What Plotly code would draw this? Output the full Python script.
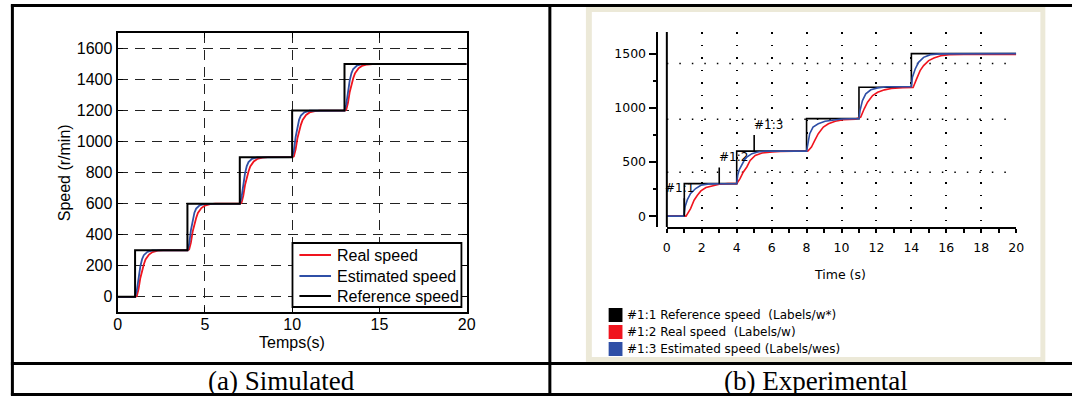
import plotly.graph_objects as go

W, H = 1081, 396

# ---------------- data: (a) Simulated ----------------
sim_ref_t = [0, 1, 4, 7, 10, 13, 20]
sim_ref_v = [0, 300, 600, 900, 1200, 1500, 1500]

sim_est_t = [0, 1.0, 1.1, 1.2, 1.3, 1.4, 1.5, 1.7, 2.0,
             4.0, 4.1, 4.2, 4.3, 4.4, 4.5, 4.7, 5.0,
             7.0, 7.1, 7.2, 7.3, 7.4, 7.5, 7.7, 8.0,
             10.0, 10.1, 10.2, 10.3, 10.4, 10.5, 10.7, 11.0,
             13.0, 13.1, 13.2, 13.3, 13.4, 13.5, 13.7, 14.0, 20]
sim_est_v = [0, 0, 40, 130, 195, 242, 268, 289, 299,
             300, 340, 430, 495, 542, 568, 589, 599,
             600, 640, 730, 795, 842, 868, 889, 899,
             900, 940, 1030, 1095, 1142, 1168, 1189, 1199,
             1200, 1240, 1330, 1395, 1442, 1468, 1489, 1499, 1500]

sim_real_t = [0, 1.0, 1.1, 1.2, 1.3, 1.4, 1.5, 1.6, 1.8, 2.0, 2.3, 2.6,
              4.0, 4.1, 4.2, 4.3, 4.4, 4.5, 4.6, 4.8, 5.0, 5.3, 5.6,
              7.0, 7.1, 7.2, 7.3, 7.4, 7.5, 7.6, 7.8, 8.0, 8.3, 8.6,
              10.0, 10.1, 10.2, 10.3, 10.4, 10.5, 10.6, 10.8, 11.0, 11.3, 11.6,
              13.0, 13.1, 13.2, 13.3, 13.4, 13.5, 13.6, 13.8, 14.0, 14.3, 14.6, 20]
sim_real_v = [0, 0, 5, 50, 120, 170, 208, 240, 272, 288, 297, 300,
              300, 305, 350, 420, 470, 508, 540, 572, 588, 597, 600,
              600, 605, 650, 720, 770, 808, 840, 872, 888, 897, 900,
              900, 905, 950, 1020, 1070, 1108, 1140, 1172, 1188, 1197, 1200,
              1200, 1205, 1250, 1320, 1370, 1408, 1440, 1472, 1488, 1497, 1500, 1500]

sim_names = ["Real speed", "Estimated speed", "Reference speed"]

# ---------------- data: (b) Experimental ----------------
exp_ref_t = [0, 1, 4, 8, 11, 14, 20]
exp_ref_v = [0, 300, 600, 900, 1190, 1500, 1500]

exp_est_t = [0, 0.97, 1.05, 1.17, 1.36, 1.65, 1.95, 2.4,
             4.0, 4.06, 4.15, 4.28, 4.45, 4.6, 4.87, 5.2, 5.6,
             8.0, 8.05, 8.18, 8.37, 8.67, 9.06, 9.54, 10.0,
             11.0, 11.06, 11.2, 11.39, 11.68, 12.07, 12.6,
             14.0, 14.06, 14.22, 14.41, 14.7, 15.09, 15.6, 20]
exp_est_v = [0, 0, 90, 150, 210, 255, 285, 298,
             300, 380, 430, 470, 520, 548, 577, 593, 600,
             600, 650, 761, 822, 853, 877, 890, 897,
             900, 975, 1067, 1129, 1166, 1184, 1195,
             1195, 1282, 1359, 1420, 1466, 1491, 1498, 1500]

exp_real_t = [0, 1.1, 1.36, 1.56, 1.75, 1.95, 2.24, 2.7, 3.0, 3.5,
              4.0, 4.19, 4.38, 4.58, 4.77, 5.06, 5.45, 6.04, 6.5,
              8.08, 8.28, 8.47, 8.67, 8.96, 9.25, 9.64, 10.1, 10.8,
              11.1, 11.3, 11.49, 11.78, 12.07, 12.46, 12.85, 13.5,
              14.1, 14.3, 14.5, 14.7, 14.99, 15.29, 15.68, 16.16, 17.0, 20]
exp_real_v = [0, 0, 70, 147, 193, 233, 264, 285, 295, 300,
              300, 347, 408, 454, 515, 561, 583, 592, 598,
              601, 638, 699, 761, 822, 853, 877, 890, 896,
              914, 991, 1052, 1113, 1144, 1166, 1178, 1185,
              1187, 1267, 1344, 1390, 1436, 1460, 1481, 1491, 1493, 1492]

exp_legend = ["#1:1 Reference speed  (Labels/w*)",
              "#1:2 Real speed  (Labels/w)",
              "#1:3 Estimated speed (Labels/wes)"]

label_text = ["#1:1", "#1:2", "#1:3"]
label_t = [1, 3, 5]
label_lo = [0, 300, 600]
label_hi = [165, 450, 750]

exp_hgrid = [405, 895, 1410]

captions = ["(a) Simulated", "(b) Experimental"]

RED = "#F0141E"
BLUE = "#2F4FA6"
BLACK = "#000000"


def px(x):
    return x / W


def py(y):
    return 1 - y / H


fig = go.Figure()

sim_colors = [RED, BLUE, BLACK]

# ---- left (simulated)
fig.add_trace(go.Scatter(x=sim_real_t, y=sim_real_v, mode="lines", name=sim_names[0],
                         showlegend=False,
                         line=dict(color=RED, width=1.8), xaxis="x", yaxis="y"))
fig.add_trace(go.Scatter(x=sim_est_t, y=sim_est_v, mode="lines", name=sim_names[1],
                         showlegend=False,
                         line=dict(color=BLUE, width=1.8), xaxis="x", yaxis="y"))
fig.add_trace(go.Scatter(x=sim_ref_t, y=sim_ref_v, mode="lines", name=sim_names[2],
                         showlegend=False,
                         line=dict(color=BLACK, width=2, shape="hv"), xaxis="x", yaxis="y"))

# ---- right (experimental)
fig.add_trace(go.Scatter(x=exp_ref_t, y=exp_ref_v, mode="lines", showlegend=False,
                         line=dict(color=BLACK, width=1.6, shape="hv"), xaxis="x2", yaxis="y2"))
fig.add_trace(go.Scatter(x=exp_real_t, y=exp_real_v, mode="lines", showlegend=False,
                         line=dict(color=RED, width=1.6), xaxis="x2", yaxis="y2"))
fig.add_trace(go.Scatter(x=exp_est_t, y=exp_est_v, mode="lines", showlegend=False,
                         line=dict(color=BLUE, width=1.6), xaxis="x2", yaxis="y2"))

cur_x, cur_y = [], []
for t, lo, hi in zip(label_t, label_lo, label_hi):
    cur_x += [t, t, None]
    cur_y += [lo, hi, None]
fig.add_trace(go.Scatter(x=cur_x, y=cur_y, mode="lines", showlegend=False,
                         line=dict(color=BLACK, width=1.6), xaxis="x2", yaxis="y2"))

AR = "Liberation Sans, Arial, sans-serif"
DJ = "DejaVu Sans, Verdana, sans-serif"
SERIF = "Liberation Serif, Times New Roman, serif"

fig.update_layout(
    width=W, height=H,
    margin=dict(l=0, r=0, t=0, b=0),
    paper_bgcolor="white",
    plot_bgcolor="rgba(0,0,0,0)",
    showlegend=False,
    xaxis=dict(domain=[px(115), px(468.3)], anchor="y", range=[0, 20], dtick=5,
               ticks="inside", ticklen=5, tickcolor="black", showline=True, linecolor="black",
               linewidth=2, mirror="ticks", showgrid=True, gridcolor="#222222", gridwidth=1,
               griddash="10px,7px", zeroline=False, ticklabelstandoff=-4,
               tickfont=dict(family=AR, size=16, color="black")),
    yaxis=dict(domain=[py(312.3), py(33)], anchor="x", range=[-100, 1700], dtick=200, tick0=0,
               ticks="inside", ticklen=5, tickcolor="black", showline=True, linecolor="black",
               linewidth=2, mirror="ticks", showgrid=True, gridcolor="#222222", gridwidth=1,
               griddash="10px,7px", zeroline=False,
               tickfont=dict(family=AR, size=16, color="black")),
    xaxis2=dict(domain=[px(670.9), px(1024.5)], anchor="y2", range=[0, 20], dtick=2,
                ticks="outside", ticklen=4, tickcolor="black", tickwidth=1.5,
                minor=dict(dtick=1, ticks="outside", ticklen=4, tickcolor="black", showgrid=False),
                showline=True, linecolor="black", linewidth=2,
                showgrid=True, gridcolor="black", gridwidth=1.5, griddash="1.5px,11px",
                zeroline=False, ticklabelstandoff=4,
                tickfont=dict(family=DJ, size=12.5, color="black")),
    yaxis2=dict(domain=[py(227), py(32)], anchor="free", position=px(660.5),
                range=[-100, 1700], tickvals=[0, 500, 1000, 1500],
                ticks="outside", ticklen=7, tickcolor="black", tickwidth=1.5,
                minor=dict(dtick=250, ticks="outside", ticklen=3, tickcolor="black", showgrid=False),
                showline=True, linecolor="black", linewidth=2, showgrid=False, zeroline=False,
                tickfont=dict(family=DJ, size=12.5, color="black")),
)

shapes = []
# beige panel of the experimental screenshot
shapes.append(dict(type="rect", xref="paper", yref="paper", x0=px(589), x1=px(1054),
                   y0=py(362), y1=py(7), fillcolor="#ECE9D8", line=dict(width=0), layer="below"))
shapes.append(dict(type="rect", xref="paper", yref="paper", x0=px(595), x1=px(1049),
                   y0=py(357), y1=py(12), fillcolor="white", line=dict(width=0), layer="below"))
# dotted horizontal grid of the experimental plot
for v in exp_hgrid:
    shapes.append(dict(type="line", xref="x2 domain", yref="y2", x0=0, x1=1, y0=v, y1=v,
                       line=dict(color="black", width=1.5, dash="1.5px,11px"), layer="below"))
# t = 0 axis line of experimental plot
shapes.append(dict(type="line", xref="x2 domain", yref="y2 domain", x0=0, x1=0, y0=0, y1=1,
                   line=dict(color="black", width=2)))
# table borders
TB = dict(color="black", width=3)
shapes.append(dict(type="line", xref="paper", yref="paper", x0=px(7), x1=1, y0=py(5.5), y1=py(5.5), line=TB))
shapes.append(dict(type="line", xref="paper", yref="paper", x0=px(8.5), x1=px(8.5), y0=py(395), y1=py(4.5), line=TB))
shapes.append(dict(type="line", xref="paper", yref="paper", x0=px(552.5), x1=px(552.5), y0=py(395), y1=py(4.5), line=TB))
shapes.append(dict(type="line", xref="paper", yref="paper", x0=px(7), x1=1, y0=py(363.5), y1=py(363.5), line=TB))
shapes.append(dict(type="line", xref="paper", yref="paper", x0=px(7), x1=1, y0=py(394.5), y1=py(394.5), line=TB))

# simulated legend box (drawn manually for exact row spacing)
shapes.append(dict(type="rect", xref="paper", yref="paper", x0=px(292), x1=px(463),
                   y0=py(307), y1=py(243), fillcolor="white", line=dict(color="black", width=1.8)))
sim_rows = [255, 276, 296]
for c, ry in zip(sim_colors, sim_rows):
    shapes.append(dict(type="line", xref="paper", yref="paper", x0=px(299), x1=px(331),
                       y0=py(ry), y1=py(ry), line=dict(color=c, width=2)))

# experimental legend swatches
exp_colors = [BLACK, RED, BLUE]
row_y = [315, 332, 349]
for c, ry in zip(exp_colors, row_y):
    shapes.append(dict(type="rect", xref="paper", yref="paper", x0=px(612), x1=px(626),
                       y0=py(ry + 7), y1=py(ry - 7), fillcolor=c, line=dict(width=0)))


def ann(text, x, y, font, xanchor="center", yanchor="middle", **kw):
    d = dict(text=text, x=x, y=y, xref="paper", yref="paper", showarrow=False,
             xanchor=xanchor, yanchor=yanchor, font=font)
    d.update(kw)
    return d


F16 = dict(family=AR, size=16, color="black")
annotations = []
annotations.append(ann("Speed (r/min)", px(61), py(173), F16, textangle=-90))
annotations.append(ann("Temps(s)", px(291), py(342), F16))
annotations.append(ann("Time (s)", px(846.5), py(274), dict(family=DJ, size=12.5, color="black")))
for txt, cx in zip(captions, [280.6, 821.5]):
    annotations.append(ann(txt, px(cx), py(381), dict(family=SERIF, size=27, color="black")))
for txt, ry in zip(sim_names, sim_rows):
    annotations.append(ann(txt, px(335), py(ry), F16, xanchor="left"))
for txt, ry in zip(exp_legend, row_y):
    annotations.append(ann(txt, px(629), py(ry), dict(family=DJ, size=12, color="black"),
                           xanchor="left"))
for i, (txt, t, hi) in enumerate(zip(label_text, label_t, label_hi)):
    annotations.append(dict(text=txt, x=t, y=hi, xref="x2", yref="y2",
                            xanchor="center" if i == 0 else "left",
                            xshift=-5 if i == 0 else -2,
                            yanchor="bottom", yshift=1, showarrow=False,
                            font=dict(family=DJ, size=12, color="black")))

fig.update_layout(shapes=shapes, annotations=annotations)

fig.write_html("out.html")
